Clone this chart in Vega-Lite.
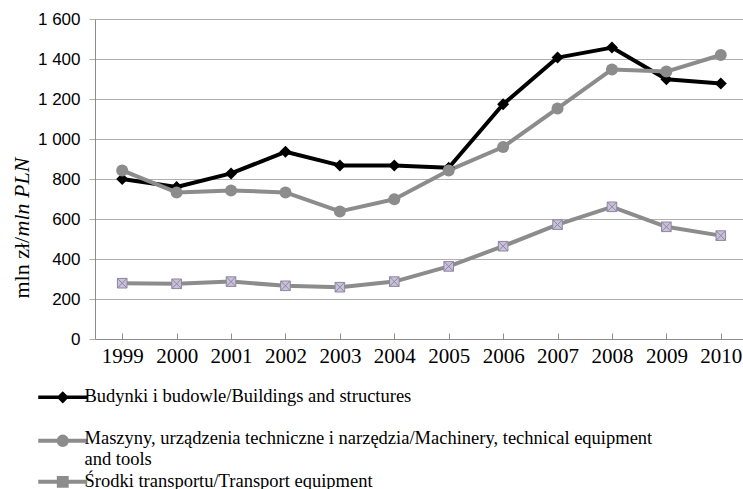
{
  "$schema": "https://vega.github.io/schema/vega-lite/v6.json",
  "width": 648,
  "height": 320,
  "autosize": {"type": "none"},
  "padding": {"left": 95, "top": 19, "right": 0, "bottom": 150},
  "background": "white",
  "data": {
    "values": [
      {"year": "1999", "series": "Budynki i budowle/Buildings and structures", "value": 800},
      {"year": "2000", "series": "Budynki i budowle/Buildings and structures", "value": 760},
      {"year": "2001", "series": "Budynki i budowle/Buildings and structures", "value": 828},
      {"year": "2002", "series": "Budynki i budowle/Buildings and structures", "value": 936},
      {"year": "2003", "series": "Budynki i budowle/Buildings and structures", "value": 868},
      {"year": "2004", "series": "Budynki i budowle/Buildings and structures", "value": 868},
      {"year": "2005", "series": "Budynki i budowle/Buildings and structures", "value": 856},
      {"year": "2006", "series": "Budynki i budowle/Buildings and structures", "value": 1174},
      {"year": "2007", "series": "Budynki i budowle/Buildings and structures", "value": 1407},
      {"year": "2008", "series": "Budynki i budowle/Buildings and structures", "value": 1457},
      {"year": "2009", "series": "Budynki i budowle/Buildings and structures", "value": 1299},
      {"year": "2010", "series": "Budynki i budowle/Buildings and structures", "value": 1278},
      {"year": "1999", "series": "Maszyny, urządzenia techniczne i narzędzia/Machinery, technical equipment and tools", "value": 843},
      {"year": "2000", "series": "Maszyny, urządzenia techniczne i narzędzia/Machinery, technical equipment and tools", "value": 733},
      {"year": "2001", "series": "Maszyny, urządzenia techniczne i narzędzia/Machinery, technical equipment and tools", "value": 743},
      {"year": "2002", "series": "Maszyny, urządzenia techniczne i narzędzia/Machinery, technical equipment and tools", "value": 733},
      {"year": "2003", "series": "Maszyny, urządzenia techniczne i narzędzia/Machinery, technical equipment and tools", "value": 638},
      {"year": "2004", "series": "Maszyny, urządzenia techniczne i narzędzia/Machinery, technical equipment and tools", "value": 699},
      {"year": "2005", "series": "Maszyny, urządzenia techniczne i narzędzia/Machinery, technical equipment and tools", "value": 843},
      {"year": "2006", "series": "Maszyny, urządzenia techniczne i narzędzia/Machinery, technical equipment and tools", "value": 960},
      {"year": "2007", "series": "Maszyny, urządzenia techniczne i narzędzia/Machinery, technical equipment and tools", "value": 1153},
      {"year": "2008", "series": "Maszyny, urządzenia techniczne i narzędzia/Machinery, technical equipment and tools", "value": 1348},
      {"year": "2009", "series": "Maszyny, urządzenia techniczne i narzędzia/Machinery, technical equipment and tools", "value": 1337},
      {"year": "2010", "series": "Maszyny, urządzenia techniczne i narzędzia/Machinery, technical equipment and tools", "value": 1420},
      {"year": "1999", "series": "Środki transportu/Transport equipment", "value": 279},
      {"year": "2000", "series": "Środki transportu/Transport equipment", "value": 276},
      {"year": "2001", "series": "Środki transportu/Transport equipment", "value": 287},
      {"year": "2002", "series": "Środki transportu/Transport equipment", "value": 266},
      {"year": "2003", "series": "Środki transportu/Transport equipment", "value": 259},
      {"year": "2004", "series": "Środki transportu/Transport equipment", "value": 287},
      {"year": "2005", "series": "Środki transportu/Transport equipment", "value": 363},
      {"year": "2006", "series": "Środki transportu/Transport equipment", "value": 464},
      {"year": "2007", "series": "Środki transportu/Transport equipment", "value": 572},
      {"year": "2008", "series": "Środki transportu/Transport equipment", "value": 661},
      {"year": "2009", "series": "Środki transportu/Transport equipment", "value": 561},
      {"year": "2010", "series": "Środki transportu/Transport equipment", "value": 517}
    ]
  },
  "resolve": {"axis": {"y": "independent"}, "scale": {"y": "shared"}},
  "layer": [
    {
      "mark": {"type": "line", "strokeJoin": "round", "strokeWidth": 4},
      "encoding": {
        "x": {"field": "year", "type": "ordinal", "sort": null, "scale": {"type": "point", "range": [0, 653], "padding": 0.5}},
        "y": {
          "field": "value", "type": "quantitative",
          "scale": {"domain": [0, 1600], "nice": false},
          "axis": {
            "values": [0, 200, 400, 600, 800, 1000, 1200, 1400, 1600],
            "labelExpr": "replace(format(datum.value, ','), ',', ' ')",
            "title": "mln zł/",
            "titleX": -67, "titleY": 279, "titleAngle": 270, "titleAlign": "left", "titleBaseline": "alphabetic"
          }
        },
        "color": {
          "field": "series", "type": "nominal",
          "scale": {
            "domain": ["Budynki i budowle/Buildings and structures", "Maszyny, urządzenia techniczne i narzędzia/Machinery, technical equipment and tools", "Środki transportu/Transport equipment"],
            "range": ["#000000", "#8c8c8c", "#8c8c8c"]
          },
          "legend": {
            "orient": "none", "legendX": -41.5, "legendY": 359, "direction": "vertical",
            "title": null,
            "symbolSize": 2401,
            "symbolStrokeWidth": 4,
            "labelFont": "Liberation Serif", "labelFontSize": 18.5, "labelColor": "#000000", "labelLimit": 900, "labelOffset": 12.5,
            "labelBaseline": "top", "labelLineHeight": 18,
            "rowPadding": 0,
            "labelExpr": "datum.value == 'Maszyny, urządzenia techniczne i narzędzia/Machinery, technical equipment and tools' ? ['Maszyny, urządzenia techniczne i narzędzia/Machinery, technical equipment', 'and tools'] : datum.label",
            "encode": {
              "labels": {
                "update": {
                  "dy": {"signal": "datum.value == 'Maszyny, urządzenia techniczne i narzędzia/Machinery, technical equipment and tools' ? 12 : (datum.value == 'Środki transportu/Transport equipment' ? -12 : 0)"}
                }
              },
              "symbols": {
                "update": {
                  "shape": {"signal": "datum.value == 'Budynki i budowle/Buildings and structures' ? 'M-1,0.41H1M0,0.26L0.15,0.41L0,0.56L-0.15,0.41Z' : (datum.value == 'Środki transportu/Transport equipment' ? 'M-1,-0.1H1M-0.16,-0.26H0.16V0.06H-0.16ZM-0.16,-0.26L0.16,0.06M0.16,-0.26L-0.16,0.06' : 'M-1,0.96H1M0.17,0.96A0.17,0.17 0 1,1 -0.17,0.96A0.17,0.17 0 1,1 0.17,0.96Z')"},
                  "fill": {"signal": "datum.value == 'Budynki i budowle/Buildings and structures' ? '#000000' : (datum.value == 'Środki transportu/Transport equipment' ? '#c9c1d9' : '#8c8c8c')"},
                  "strokeWidth": {"signal": "datum.value == 'Budynki i budowle/Buildings and structures' ? 3.5 : 4"}
                }
              }
            }
          }
        }
      }
    },
    {
      "transform": [{"filter": "datum.series == 'Budynki i budowle/Buildings and structures'"}],
      "mark": {"type": "point", "filled": true, "opacity": 1, "size": 144, "shape": "diamond", "color": "#000000"},
      "encoding": {
        "x": {"field": "year", "type": "ordinal", "sort": null},
        "y": {
          "field": "value", "type": "quantitative",
          "axis": {
            "orient": "left", "grid": false, "labels": false, "ticks": false, "domain": false,
            "title": "mln PLN", "titleFontStyle": "italic",
            "titleX": -67, "titleY": 217, "titleAngle": 270, "titleAlign": "left", "titleBaseline": "alphabetic"
          }
        }
      }
    },
    {
      "transform": [{"filter": "datum.series == 'Maszyny, urządzenia techniczne i narzędzia/Machinery, technical equipment and tools'"}],
      "mark": {"type": "point", "filled": true, "opacity": 1, "size": 144, "shape": "circle", "color": "#8c8c8c"},
      "encoding": {
        "x": {"field": "year", "type": "ordinal", "sort": null},
        "y": {"field": "value", "type": "quantitative", "axis": null}
      }
    },
    {
      "transform": [{"filter": "datum.series == 'Środki transportu/Transport equipment'"}],
      "mark": {"type": "point", "filled": true, "opacity": 1, "size": 144, "shape": "M-0.8,-0.8H0.8V0.8H-0.8ZM-0.8,-0.8L0.8,0.8M0.8,-0.8L-0.8,0.8", "fill": "#c9c1d9", "stroke": "#8e86a0", "strokeWidth": 1},
      "encoding": {
        "x": {"field": "year", "type": "ordinal", "sort": null},
        "y": {"field": "value", "type": "quantitative", "axis": null}
      }
    }
  ],
  "config": {
    "view": {"stroke": null},
    "axis": {
      "titleFont": "Liberation Serif", "titleFontSize": 22, "titleFontWeight": "normal", "titleColor": "#000000"
    },
    "axisX": {
      "title": null, "labelAngle": 0, "labelFont": "Liberation Serif", "labelFontSize": 21, "labelColor": "#000000",
      "tickSize": -6, "labelPadding": 12, "domainColor": "#8c8c8c", "tickColor": "#8c8c8c", "grid": false
    },
    "axisY": {
      "labelFont": "Liberation Sans", "labelFontSize": 17, "labelColor": "#000000",
      "tickSize": 6, "labelPadding": 9, "gridColor": "#b0b0b0", "domainColor": "#8c8c8c", "tickColor": "#b0b0b0"
    }
  }
}
